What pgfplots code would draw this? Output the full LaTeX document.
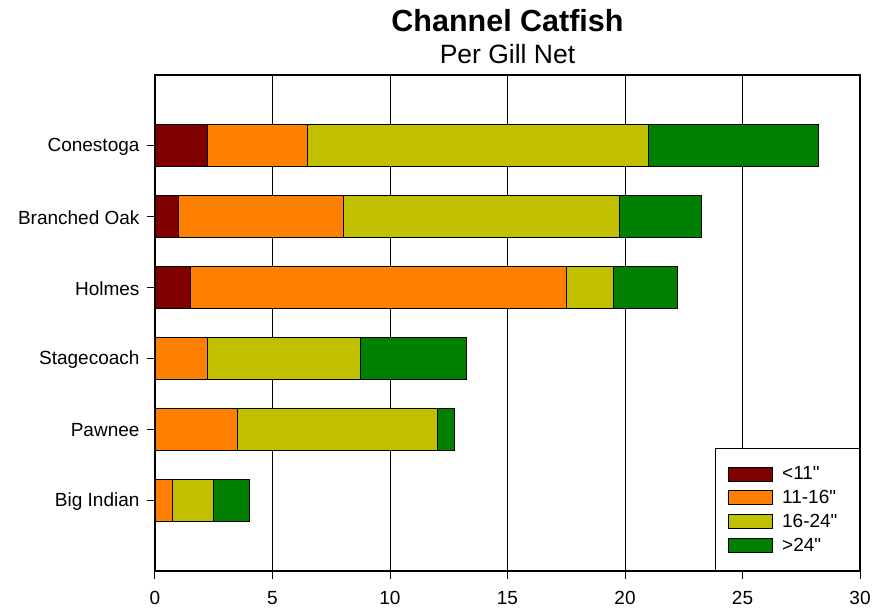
\documentclass[border=0pt]{standalone}
\usepackage{fontspec}
\setmainfont{Liberation Sans}[Ligatures=TeXOff]
\usepackage{pgfplots}
\pgfplotsset{compat=1.18}
\definecolor{c1}{HTML}{800000}
\definecolor{c2}{HTML}{FF8000}
\definecolor{c3}{HTML}{C0C000}
\definecolor{c4}{HTML}{008000}
\begin{document}
\begin{tikzpicture}
\path[use as bounding box] (-155pt,-40pt) rectangle (733pt,571pt);
\begin{axis}[
 scale only axis, width=705pt, height=496pt,
 xbar stacked, bar width=42pt,
 xmin=0, xmax=30, ymin=-1, ymax=6,
 xtick={0,5,...,30}, ytick={0,...,5},
 yticklabels={Big Indian,Pawnee,Stagecoach,Holmes,Branched Oak,Conestoga},
 xmajorgrids, grid style={black, line width=1pt},
 axis line style={black, line width=1.2pt},
 tick style={black, line width=1pt},
 tick align=outside, major tick length=8pt,
 xtick pos=bottom, ytick pos=left,
 ticklabel style={font=\fontsize{19}{22}\selectfont},
 xticklabel style={yshift=-9pt},
 yticklabel style={xshift=-4pt, yshift=-1pt},
 /pgf/number format/assume math mode=true,
 legend style={at={(1,0)}, anchor=south east, draw=black, line width=1pt,
   font=\fontsize{19}{22}\selectfont, inner xsep=12pt, inner ysep=16pt,
   row sep=5pt},
 legend cell align=left,
 legend image code/.code={\draw[#1, line width=0.8pt] (0pt,-7pt) rectangle (44pt,7pt); \path[draw=none, fill=none] (0pt,0pt) -- (52pt,0pt);},
]
\addplot[fill=c1, draw=black, line width=0.8pt] coordinates {(2.25,5) (1.0,4) (1.5,3) (0,2) (0,1) (0,0)};
\addplot[fill=c2, draw=black, line width=0.8pt] coordinates {(4.25,5) (7.0,4) (16.0,3) (2.25,2) (3.5,1) (0.75,0)};
\addplot[fill=c3, draw=black, line width=0.8pt] coordinates {(14.5,5) (11.75,4) (2.0,3) (6.5,2) (8.5,1) (1.75,0)};
\addplot[fill=c4, draw=black, line width=0.8pt] coordinates {(7.25,5) (3.5,4) (2.75,3) (4.5,2) (0.75,1) (1.5,0)};
\legend{{<11"},{11-16"},{16-24"\hspace*{8pt}},{>24"}}
\end{axis}
\node[anchor=base, font=\bfseries\fontsize{30.5}{36}\selectfont] at (352.5pt,539pt) {Channel Catfish};
\node[anchor=base, font=\fontsize{26.5}{30}\selectfont] at (352.5pt,507pt) {Per Gill Net};
\end{tikzpicture}
\end{document}
